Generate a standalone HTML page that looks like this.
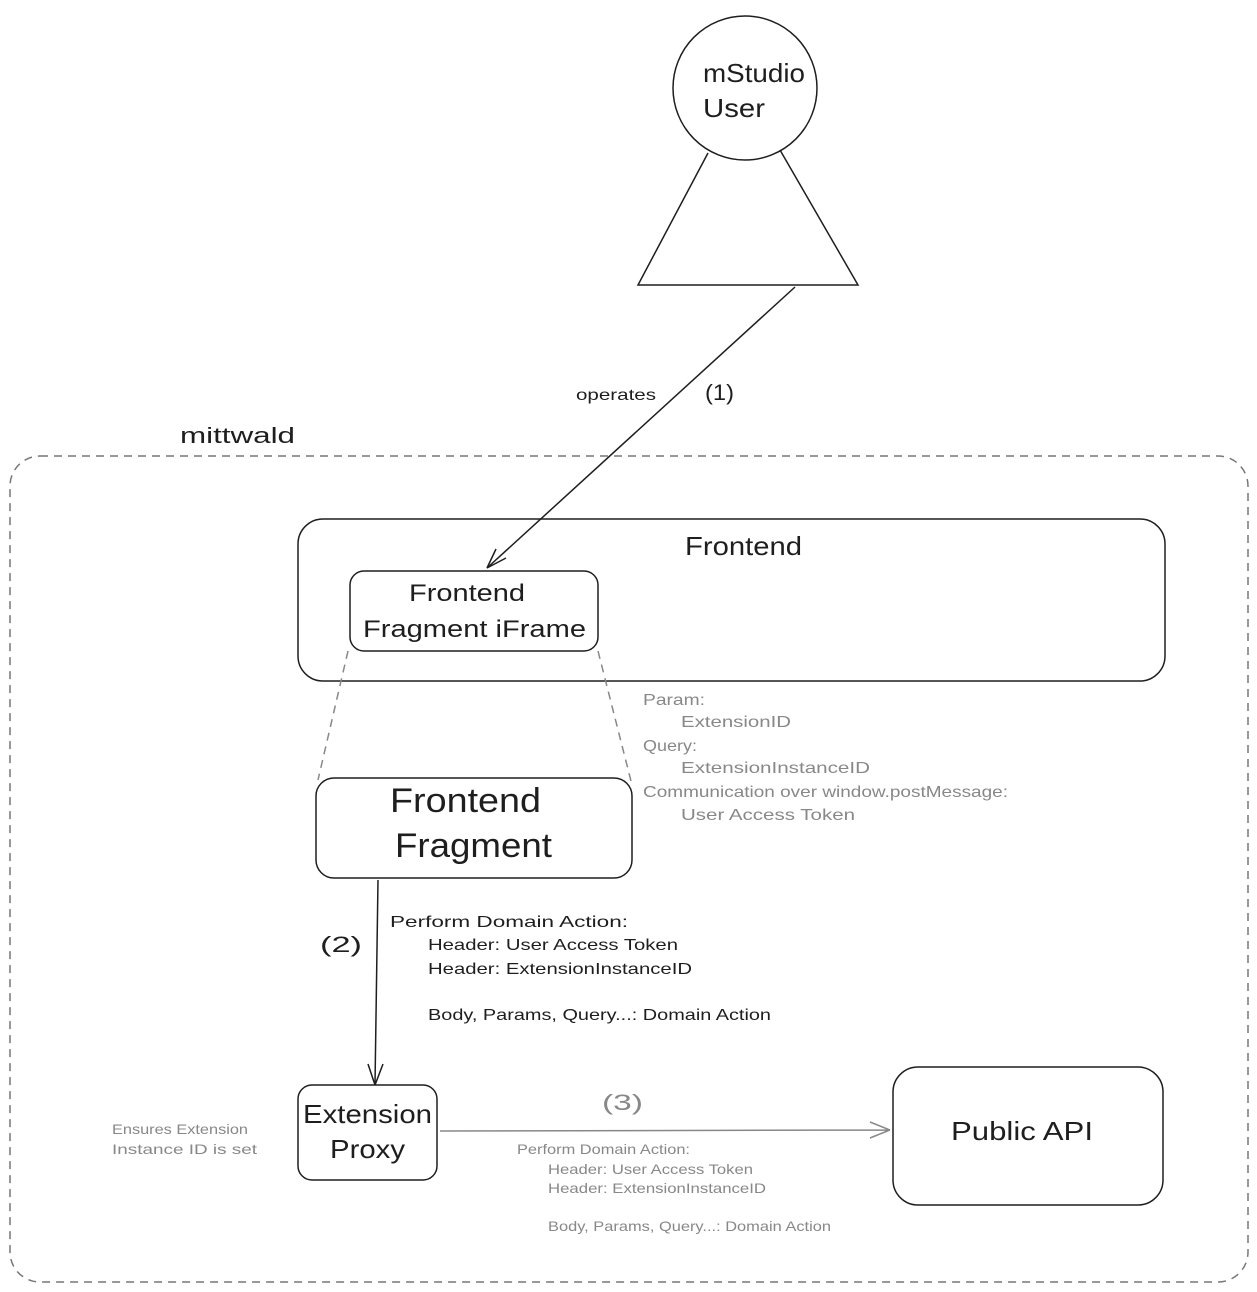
<!DOCTYPE html>
<html><head><meta charset="utf-8"><style>
html,body{margin:0;padding:0;background:#fff;}
svg{display:block;}
text{font-family:"Liberation Sans",sans-serif;}
</style></head><body>
<svg width="1257" height="1292" viewBox="0 0 1257 1292" xmlns="http://www.w3.org/2000/svg">
<rect width="1257" height="1292" fill="#fff"/>
<g fill="none" stroke="#1e1e1e" stroke-width="1.5">
<circle cx="745" cy="88" r="72"/>
<path d="M708 153 L638 285 L858 285 L780 150"/>
<path d="M795 287 L487 568"/>
<path d="M487 568 L496 549 M487 568 L506 558"/>
<rect x="10" y="456" width="1238" height="826" rx="30" stroke="#777" stroke-dasharray="8 6"/>
<rect x="298" y="519" width="867" height="162" rx="25"/>
<rect x="350" y="571" width="248" height="80" rx="14"/>
<path d="M348 651 L318 780 M598 651 L632 785" stroke="#888" stroke-dasharray="8 6"/>
<rect x="316" y="778" width="316" height="100" rx="18"/>
<path d="M378 880 L375 1085"/>
<path d="M375 1085 L368 1064 M375 1085 L383 1064"/>
<rect x="298" y="1085" width="139" height="95" rx="14"/>
<path d="M440 1131 L890 1130 M890 1130 L870 1122 M890 1130 L870 1138" stroke="#888"/>
<rect x="893" y="1067" width="270" height="138" rx="25"/>
</g>
<g fill="#1e1e1e" lengthAdjust="spacingAndGlyphs">
<text x="703" y="82" font-size="26" textLength="102" lengthAdjust="spacingAndGlyphs">mStudio</text>
<text x="703" y="117" font-size="26" textLength="62" lengthAdjust="spacingAndGlyphs">User</text>
<text x="576" y="400" font-size="16" textLength="80" lengthAdjust="spacingAndGlyphs">operates</text>
<text x="705" y="400" font-size="22" textLength="29" lengthAdjust="spacingAndGlyphs">(1)</text>
<text x="180" y="443" font-size="22" textLength="115" lengthAdjust="spacingAndGlyphs">mittwald</text>
<text x="685" y="555" font-size="26" textLength="117" lengthAdjust="spacingAndGlyphs">Frontend</text>
<text x="409" y="601" font-size="24" textLength="116" lengthAdjust="spacingAndGlyphs">Frontend</text>
<text x="363" y="637" font-size="24" textLength="223" lengthAdjust="spacingAndGlyphs">Fragment iFrame</text>
<text x="390" y="812" font-size="34" textLength="151" lengthAdjust="spacingAndGlyphs">Frontend</text>
<text x="395" y="857" font-size="34" textLength="157" lengthAdjust="spacingAndGlyphs">Fragment</text>
<text x="320" y="952" font-size="22" textLength="42" lengthAdjust="spacingAndGlyphs">(2)</text>
<text x="390" y="927" font-size="16" textLength="238" lengthAdjust="spacingAndGlyphs">Perform Domain Action:</text>
<text x="428" y="950" font-size="16" textLength="250" lengthAdjust="spacingAndGlyphs">Header: User Access Token</text>
<text x="428" y="974" font-size="16" textLength="264" lengthAdjust="spacingAndGlyphs">Header: ExtensionInstanceID</text>
<text x="428" y="1020" font-size="16" textLength="343" lengthAdjust="spacingAndGlyphs">Body, Params, Query...: Domain Action</text>
<text x="303" y="1123" font-size="26" textLength="129" lengthAdjust="spacingAndGlyphs">Extension</text>
<text x="330" y="1158" font-size="26" textLength="75" lengthAdjust="spacingAndGlyphs">Proxy</text>
<text x="951" y="1140" font-size="26" textLength="142" lengthAdjust="spacingAndGlyphs">Public API</text>
</g>
<g fill="#888">
<text x="643" y="705" font-size="16" textLength="62" lengthAdjust="spacingAndGlyphs">Param:</text>
<text x="681" y="727" font-size="16" textLength="110" lengthAdjust="spacingAndGlyphs">ExtensionID</text>
<text x="643" y="751" font-size="16" textLength="54" lengthAdjust="spacingAndGlyphs">Query:</text>
<text x="681" y="773" font-size="16" textLength="189" lengthAdjust="spacingAndGlyphs">ExtensionInstanceID</text>
<text x="643" y="797" font-size="16" textLength="365" lengthAdjust="spacingAndGlyphs">Communication over window.postMessage:</text>
<text x="681" y="820" font-size="16" textLength="174" lengthAdjust="spacingAndGlyphs">User Access Token</text>
<text x="112" y="1134" font-size="14" textLength="136" lengthAdjust="spacingAndGlyphs">Ensures Extension</text>
<text x="112" y="1154" font-size="14" textLength="145" lengthAdjust="spacingAndGlyphs">Instance ID is set</text>
<text x="602" y="1110" font-size="22" textLength="41" lengthAdjust="spacingAndGlyphs">(3)</text>
<text x="517" y="1154" font-size="14" textLength="173" lengthAdjust="spacingAndGlyphs">Perform Domain Action:</text>
<text x="548" y="1174" font-size="14" textLength="205" lengthAdjust="spacingAndGlyphs">Header: User Access Token</text>
<text x="548" y="1193" font-size="14" textLength="218" lengthAdjust="spacingAndGlyphs">Header: ExtensionInstanceID</text>
<text x="548" y="1231" font-size="14" textLength="283" lengthAdjust="spacingAndGlyphs">Body, Params, Query...: Domain Action</text>
</g>
</svg>
</body></html>
